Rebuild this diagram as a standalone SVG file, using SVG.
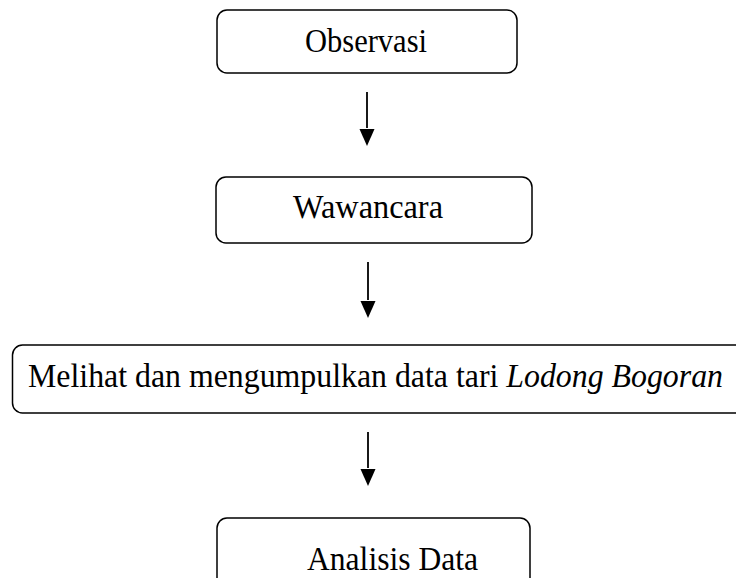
<svg xmlns="http://www.w3.org/2000/svg" width="736" height="578" viewBox="0 0 736 578">
<style>
.box{fill:#fff;stroke:#000;stroke-width:1.5}
.t{font-family:"Liberation Serif","Times New Roman",serif;font-size:33px;fill:#000}
.c{stroke:#000;stroke-width:1.8;fill:none}
</style>
<rect width="736" height="578" fill="#fff"/>
<g id="n1">
<rect class="box" x="217" y="10" width="300" height="63" rx="10"/>
<text class="t" x="305" y="52" textLength="122" lengthAdjust="spacingAndGlyphs">Observasi</text>
</g>
<g id="n2">
<rect class="box" x="216" y="177" width="316" height="66" rx="10"/>
<text class="t" x="293" y="218" textLength="150" lengthAdjust="spacingAndGlyphs">Wawancara</text>
</g>
<g id="n3">
<rect class="box" x="12.5" y="345" width="740" height="68" rx="10"/>
<text class="t" x="28" y="387" textLength="695" lengthAdjust="spacingAndGlyphs">Melihat dan mengumpulkan data tari <tspan font-style="italic">Lodong Bogoran</tspan></text>
</g>
<g id="n4">
<rect class="box" x="217" y="518" width="313" height="70" rx="10"/>
<text class="t" x="307" y="570" textLength="171" lengthAdjust="spacingAndGlyphs">Analisis Data</text>
</g>
<g id="connectors">
<path class="c" d="M367,92 V128" />
<path d="M359.5,129 L374.5,129 L367,146 z" fill="#000"/>
<path class="c" d="M368,262 V300" />
<path d="M360.5,301 L375.5,301 L368,318 z" fill="#000"/>
<path class="c" d="M368,432 V468" />
<path d="M360.5,469 L375.5,469 L368,486 z" fill="#000"/>
</g>
</svg>
